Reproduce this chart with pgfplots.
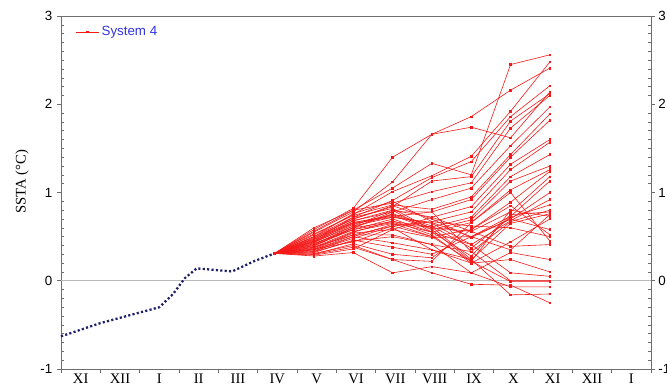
\documentclass[border=0pt]{standalone}
\usepackage{fontspec}
\setmainfont{Liberation Serif}
\setsansfont{Liberation Sans}
\usepackage{pgfplots}
\pgfplotsset{compat=1.18}
\definecolor{obs}{RGB}{30,30,105}
\definecolor{ens}{RGB}{245,25,25}
\definecolor{leg}{RGB}{50,50,225}
\definecolor{axg}{RGB}{110,110,110}
\pgfplotsset{member/.style={ens, line width=0.45pt, mark=square*, mark size=0.6pt, mark options={solid}, forget plot}}
\begin{document}
\begin{tikzpicture}
\useasboundingbox (-45.75pt,-13.5pt) rectangle (454.5pt,276.75pt);
\begin{axis}[
  scale only axis, width=442.5pt, height=264.75pt,
  xmin=0, xmax=15, ymin=-1, ymax=3,
  xtick={0,...,15},
  xticklabels={XI,XII,I,II,III,IV,V,VI,VII,VIII,IX,X,XI,XII,I},
  x tick label as interval,
  ytick={-1,0,1,2,3}, minor y tick num=9,
  ytick pos=left, xtick pos=bottom,
  tick align=outside, major tick length=3pt, minor tick length=-2pt,
  xminorticks=false,
  axis line style={axg}, every tick/.style={axg},
  x tick label style={font=\fontsize{11}{12}\selectfont, yshift=3.2pt},
  y tick label style={font=\sffamily\fontsize{10}{12}\selectfont},
  /pgf/number format/assume math mode=true,
  ylabel={SSTA (°C)},
  ylabel style={at={(axis description cs:-0.066,0.53)}, anchor=center, font=\fontsize{11}{12}\selectfont},
  legend style={at={(axis description cs:0.022,0.983)}, anchor=north west, draw=none, fill=none,
    font=\sffamily\fontsize{10}{12}\selectfont\color{leg}, row sep=0pt, inner sep=1pt},
  legend cell align=left,
  clip=false,
]
\addplot[gray!55, line width=0.6pt, forget plot] coordinates {(0,0) (15,0)};
% observed
\addplot[obs, line width=1.7pt, dash pattern=on 1.6pt off 1.7pt, forget plot] coordinates {
(0,-0.63) (1,-0.48) (2,-0.36) (2.5,-0.30) (2.85,-0.15) (3.15,0.03) (3.45,0.14) (3.85,0.125) (4.35,0.105) (4.9,0.22) (5.43,0.31)};
% ensemble members: IV, V, VI, VII, VIII, IX, X, XI
\addplot[ens, line width=0.45pt, mark=square*, mark size=0.6pt] coordinates {(5.43,0.31)(6.43,0.58)(7.43,0.82)(8.43,1.40)(9.43,1.66)(10.43,1.86)(11.43,2.16)(12.43,2.41)};
\addlegendentry{System 4}
\addplot[member] coordinates {(5.43,0.31)(6.43,0.55)(7.43,0.78)(8.43,1.12)(9.43,1.66)(10.43,1.74)(11.43,1.62)(12.43,2.14)};
\addplot[member] coordinates {(5.43,0.31)(6.43,0.60)(7.43,0.80)(8.43,1.05)(9.43,1.33)(10.43,1.20)(11.43,2.45)(12.43,2.56)};
\addplot[member] coordinates {(5.43,0.31)(6.43,0.52)(7.43,0.75)(8.43,1.01)(9.43,1.19)(10.43,1.41)(11.43,1.92)(12.43,2.48)};
\addplot[member] coordinates {(5.43,0.31)(6.43,0.50)(7.43,0.72)(8.43,0.91)(9.43,1.17)(10.43,1.35)(11.43,1.86)(12.43,2.21)};
\addplot[member] coordinates {(5.43,0.31)(6.43,0.48)(7.43,0.70)(8.43,0.84)(9.43,1.13)(10.43,1.18)(11.43,1.81)(12.43,2.12)};
\addplot[member] coordinates {(5.43,0.31)(6.43,0.56)(7.43,0.80)(8.43,0.88)(9.43,1.01)(10.43,1.11)(11.43,1.73)(12.43,2.10)};
\addplot[member] coordinates {(5.43,0.31)(6.43,0.45)(7.43,0.68)(8.43,0.78)(9.43,0.92)(10.43,1.05)(11.43,1.53)(12.43,1.97)};
\addplot[member] coordinates {(5.43,0.31)(6.43,0.53)(7.43,0.74)(8.43,0.86)(9.43,0.81)(10.43,0.95)(11.43,1.43)(12.43,1.89)};
\addplot[member] coordinates {(5.43,0.31)(6.43,0.47)(7.43,0.66)(8.43,0.73)(9.43,0.78)(10.43,0.92)(11.43,1.40)(12.43,1.82)};
\addplot[member] coordinates {(5.43,0.31)(6.43,0.44)(7.43,0.62)(8.43,0.80)(9.43,0.72)(10.43,0.84)(11.43,1.32)(12.43,1.60)};
\addplot[member] coordinates {(5.43,0.31)(6.43,0.50)(7.43,0.76)(8.43,0.90)(9.43,0.67)(10.43,0.78)(11.43,1.26)(12.43,1.57)};
\addplot[member] coordinates {(5.43,0.31)(6.43,0.42)(7.43,0.60)(8.43,0.67)(9.43,0.61)(10.43,0.72)(11.43,1.18)(12.43,1.43)};
\addplot[member] coordinates {(5.43,0.31)(6.43,0.46)(7.43,0.72)(8.43,0.82)(9.43,0.58)(10.43,0.69)(11.43,1.13)(12.43,1.30)};
\addplot[member] coordinates {(5.43,0.31)(6.43,0.40)(7.43,0.58)(8.43,0.70)(9.43,0.55)(10.43,0.66)(11.43,1.03)(12.43,1.26)};
\addplot[member] coordinates {(5.43,0.31)(6.43,0.38)(7.43,0.56)(8.43,0.65)(9.43,0.50)(10.43,0.58)(11.43,0.89)(12.43,1.24)};
\addplot[member] coordinates {(5.43,0.31)(6.43,0.43)(7.43,0.64)(8.43,0.75)(9.43,0.60)(10.43,0.56)(11.43,0.78)(12.43,1.18)};
\addplot[member] coordinates {(5.43,0.31)(6.43,0.36)(7.43,0.54)(8.43,0.58)(9.43,0.49)(10.43,0.50)(11.43,0.73)(12.43,1.13)};
\addplot[member] coordinates {(5.43,0.31)(6.43,0.49)(7.43,0.70)(8.43,0.85)(9.43,0.70)(10.43,0.49)(11.43,0.70)(12.43,1.00)};
\addplot[member] coordinates {(5.43,0.31)(6.43,0.41)(7.43,0.62)(8.43,0.72)(9.43,0.65)(10.43,0.41)(11.43,0.68)(12.43,0.92)};
\addplot[member] coordinates {(5.43,0.31)(6.43,0.39)(7.43,0.60)(8.43,0.76)(9.43,0.62)(10.43,0.37)(11.43,0.72)(12.43,0.86)};
\addplot[member] coordinates {(5.43,0.31)(6.43,0.35)(7.43,0.52)(8.43,0.52)(9.43,0.41)(10.43,0.33)(11.43,0.67)(12.43,0.80)};
\addplot[member] coordinates {(5.43,0.31)(6.43,0.47)(7.43,0.68)(8.43,0.80)(9.43,0.55)(10.43,0.28)(11.43,0.75)(12.43,0.78)};
\addplot[member] coordinates {(5.43,0.31)(6.43,0.33)(7.43,0.50)(8.43,0.43)(9.43,0.35)(10.43,0.24)(11.43,0.65)(12.43,0.76)};
\addplot[member] coordinates {(5.43,0.31)(6.43,0.44)(7.43,0.66)(8.43,0.74)(9.43,0.58)(10.43,0.22)(11.43,0.80)(12.43,0.73)};
\addplot[member] coordinates {(5.43,0.31)(6.43,0.37)(7.43,0.55)(8.43,0.68)(9.43,0.52)(10.43,0.20)(11.43,0.44)(12.43,0.70)};
\addplot[member] coordinates {(5.43,0.31)(6.43,0.32)(7.43,0.46)(8.43,0.38)(9.43,0.30)(10.43,0.50)(11.43,0.70)(12.43,0.58)};
\addplot[member] coordinates {(5.43,0.31)(6.43,0.30)(7.43,0.42)(8.43,0.30)(9.43,0.26)(10.43,0.58)(11.43,0.85)(12.43,0.52)};
\addplot[member] coordinates {(5.43,0.31)(6.43,0.34)(7.43,0.48)(8.43,0.62)(9.43,0.67)(10.43,0.62)(11.43,0.60)(12.43,0.50)};
\addplot[member] coordinates {(5.43,0.31)(6.43,0.31)(7.43,0.40)(8.43,0.24)(9.43,0.22)(10.43,0.66)(11.43,1.00)(12.43,0.45)};
\addplot[member] coordinates {(5.43,0.31)(6.43,0.29)(7.43,0.36)(8.43,0.58)(9.43,0.72)(10.43,0.56)(11.43,0.39)(12.43,0.41)};
\addplot[member] coordinates {(5.43,0.31)(6.43,0.28)(7.43,0.32)(8.43,0.09)(9.43,0.16)(10.43,0.09)(11.43,0.32)(12.43,0.24)};
\addplot[member] coordinates {(5.43,0.31)(6.43,0.36)(7.43,0.44)(8.43,0.60)(9.43,0.35)(10.43,0.20)(11.43,0.24)(12.43,0.10)};
\addplot[member] coordinates {(5.43,0.31)(6.43,0.42)(7.43,0.58)(8.43,0.66)(9.43,0.55)(10.43,0.41)(11.43,0.09)(12.43,0.05)};
\addplot[member] coordinates {(5.43,0.31)(6.43,0.38)(7.43,0.52)(8.43,0.62)(9.43,0.50)(10.43,0.22)(11.43,-0.01)(12.43,-0.01)};
\addplot[member] coordinates {(5.43,0.31)(6.43,0.33)(7.43,0.45)(8.43,0.50)(9.43,0.41)(10.43,0.09)(11.43,-0.07)(12.43,-0.07)};
\addplot[member] coordinates {(5.43,0.31)(6.43,0.35)(7.43,0.50)(8.43,0.64)(9.43,0.61)(10.43,0.24)(11.43,-0.16)(12.43,-0.15)};
\addplot[member] coordinates {(5.43,0.31)(6.43,0.30)(7.43,0.38)(8.43,0.24)(9.43,0.09)(10.43,-0.04)(11.43,-0.05)(12.43,-0.25)};
\addplot[member] coordinates {(5.43,0.31)(6.43,0.40)(7.43,0.60)(8.43,0.78)(9.43,0.78)(10.43,0.33)(11.43,0.00)(12.43,0.00)};
\addplot[member] coordinates {(5.43,0.31)(6.43,0.45)(7.43,0.65)(8.43,0.72)(9.43,0.66)(10.43,0.50)(11.43,0.35)(12.43,0.75)};
\end{axis}
\begin{axis}[
  scale only axis, width=442.5pt, height=264.75pt,
  xmin=0, xmax=15, ymin=-1, ymax=3,
  axis x line=none, axis y line*=right,
  ytick={-1,0,1,2,3}, minor y tick num=9,
  tick align=outside, major tick length=3pt, minor tick length=-2pt,
  axis line style={axg}, every tick/.style={axg},
  y tick label style={font=\sffamily\fontsize{10}{12}\selectfont, xshift=-1pt},
  /pgf/number format/assume math mode=true,
]
\end{axis}
\end{tikzpicture}
\end{document}
